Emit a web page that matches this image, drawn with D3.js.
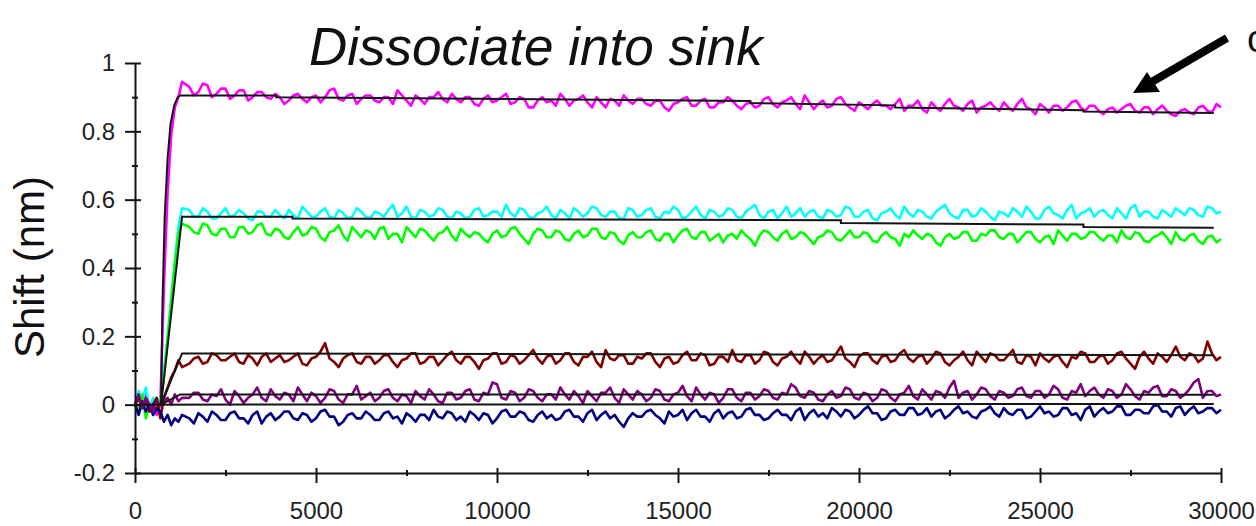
<!DOCTYPE html>
<html>
<head>
<meta charset="utf-8">
<script src="https://cdn.jsdelivr.net/npm/d3@7"></script>
<style>
  body { margin: 0; background: #fff; }
  svg { display: block; }
  text { font-family: "Liberation Sans", Arial, sans-serif; }
</style>
</head>
<body>
<svg id="chart" width="1256" height="526"></svg>
<script>
// sampling grid (s): 100 s steps over the binding ramp, then every 125 s
const times = d3.range(0, 1301, 100).concat(d3.range(1500, 30001, 125));

const magenta = [
  0.0, 0.02, -0.01, 0.03, -0.02, 0.01, -0.03, 0.0, 0.35, 0.62, 0.79, 0.87, 0.9, 0.945,
  0.93, 0.905, 0.915, 0.94, 0.935, 0.9, 0.91, 0.925, 0.925, 0.895, 0.905, 0.92, 0.92, 0.89, 0.9, 0.915, 0.915, 0.9, 0.895, 0.91,
  0.9, 0.88, 0.89, 0.905, 0.91, 0.895, 0.885, 0.9, 0.905, 0.885, 0.9, 0.92, 0.925, 0.895, 0.89, 0.905, 0.91, 0.88, 0.895, 0.905,
  0.905, 0.89, 0.885, 0.9, 0.9, 0.88, 0.92, 0.905, 0.89, 0.875, 0.905, 0.895, 0.88, 0.9, 0.9, 0.915, 0.895, 0.885, 0.91, 0.895,
  0.885, 0.9, 0.9, 0.88, 0.875, 0.895, 0.905, 0.885, 0.89, 0.9, 0.91, 0.88, 0.885, 0.9, 0.895, 0.87, 0.87, 0.89, 0.9, 0.885,
  0.89, 0.875, 0.91, 0.895, 0.875, 0.89, 0.895, 0.905, 0.885, 0.87, 0.9, 0.885, 0.87, 0.895, 0.89, 0.875, 0.905, 0.89, 0.88, 0.895,
  0.895, 0.88, 0.875, 0.89, 0.89, 0.87, 0.86, 0.88, 0.885, 0.895, 0.9, 0.875, 0.875, 0.89, 0.895, 0.87, 0.87, 0.885, 0.885, 0.9,
  0.89, 0.875, 0.865, 0.88, 0.885, 0.87, 0.875, 0.895, 0.9, 0.88, 0.87, 0.885, 0.89, 0.9, 0.88, 0.865, 0.905, 0.885, 0.865, 0.88,
  0.89, 0.87, 0.875, 0.895, 0.9, 0.88, 0.87, 0.86, 0.885, 0.875, 0.865, 0.88, 0.89, 0.875, 0.875, 0.865, 0.88, 0.895, 0.86, 0.875,
  0.875, 0.89, 0.865, 0.855, 0.885, 0.87, 0.86, 0.88, 0.895, 0.875, 0.87, 0.86, 0.88, 0.89, 0.855, 0.87, 0.875, 0.885, 0.87, 0.86,
  0.885, 0.87, 0.86, 0.88, 0.895, 0.87, 0.865, 0.85, 0.88, 0.87, 0.855, 0.875, 0.875, 0.86, 0.87, 0.885, 0.89, 0.87, 0.86, 0.875,
  0.875, 0.86, 0.85, 0.865, 0.87, 0.855, 0.865, 0.875, 0.88, 0.86, 0.855, 0.87, 0.87, 0.85, 0.865, 0.875, 0.86, 0.85, 0.845, 0.86,
  0.865, 0.855, 0.85, 0.87, 0.875, 0.86, 0.855, 0.88, 0.87
];
const cyan = [
  0.0, 0.04, 0.01, 0.05, -0.01, 0.02, 0.0, 0.01, 0.1, 0.2, 0.31, 0.42, 0.52, 0.575,
  0.57, 0.55, 0.55, 0.575, 0.565, 0.545, 0.545, 0.56, 0.575, 0.55, 0.555, 0.57, 0.56, 0.545, 0.54, 0.565, 0.565, 0.55, 0.55, 0.57,
  0.555, 0.545, 0.57, 0.555, 0.545, 0.58, 0.565, 0.55, 0.55, 0.565, 0.575, 0.55, 0.545, 0.57, 0.56, 0.545, 0.55, 0.575, 0.565, 0.55,
  0.545, 0.565, 0.56, 0.55, 0.57, 0.585, 0.55, 0.56, 0.58, 0.55, 0.545, 0.57, 0.565, 0.55, 0.555, 0.575, 0.57, 0.55, 0.545, 0.565,
  0.56, 0.545, 0.55, 0.57, 0.575, 0.55, 0.555, 0.565, 0.565, 0.55, 0.585, 0.56, 0.55, 0.575, 0.57, 0.55, 0.545, 0.56, 0.565, 0.58,
  0.555, 0.545, 0.57, 0.56, 0.545, 0.575, 0.565, 0.55, 0.56, 0.58, 0.575, 0.555, 0.55, 0.565, 0.565, 0.545, 0.545, 0.575, 0.57, 0.55,
  0.555, 0.57, 0.575, 0.55, 0.545, 0.565, 0.56, 0.58, 0.57, 0.545, 0.55, 0.565, 0.58, 0.555, 0.545, 0.57, 0.565, 0.55, 0.555, 0.575,
  0.57, 0.55, 0.545, 0.565, 0.575, 0.585, 0.555, 0.545, 0.565, 0.57, 0.545, 0.56, 0.58, 0.55, 0.56, 0.575, 0.55, 0.565, 0.57, 0.55,
  0.545, 0.57, 0.565, 0.55, 0.555, 0.58, 0.575, 0.55, 0.55, 0.565, 0.57, 0.545, 0.54, 0.56, 0.565, 0.575, 0.555, 0.545, 0.58, 0.56,
  0.55, 0.57, 0.565, 0.55, 0.545, 0.565, 0.575, 0.585, 0.56, 0.55, 0.545, 0.57, 0.57, 0.55, 0.555, 0.575, 0.565, 0.55, 0.54, 0.565,
  0.56, 0.55, 0.575, 0.565, 0.55, 0.58, 0.565, 0.545, 0.545, 0.57, 0.58, 0.56, 0.555, 0.545, 0.57, 0.585, 0.545, 0.56, 0.565, 0.575,
  0.55, 0.565, 0.57, 0.555, 0.545, 0.575, 0.56, 0.545, 0.575, 0.585, 0.55, 0.565, 0.565, 0.55, 0.545, 0.57, 0.56, 0.55, 0.575, 0.565,
  0.555, 0.575, 0.57, 0.555, 0.55, 0.58, 0.575, 0.56, 0.565
];
const green = [
  0.01, -0.02, 0.03, -0.04, 0.0, -0.03, 0.02, 0.0, 0.08, 0.19, 0.3, 0.41, 0.5, 0.53,
  0.52, 0.505, 0.5, 0.53, 0.525, 0.5, 0.495, 0.515, 0.515, 0.49, 0.49, 0.52, 0.52, 0.5, 0.505, 0.525, 0.53, 0.5, 0.495, 0.515,
  0.51, 0.49, 0.485, 0.505, 0.52, 0.495, 0.5, 0.52, 0.515, 0.49, 0.48, 0.505, 0.51, 0.525, 0.495, 0.48, 0.52, 0.505, 0.49, 0.51,
  0.505, 0.485, 0.515, 0.52, 0.485, 0.5, 0.5, 0.475, 0.52, 0.505, 0.49, 0.515, 0.51, 0.495, 0.48, 0.5, 0.505, 0.52, 0.495, 0.48,
  0.515, 0.5, 0.49, 0.505, 0.5, 0.485, 0.475, 0.5, 0.51, 0.49, 0.495, 0.515, 0.52, 0.5, 0.485, 0.47, 0.5, 0.515, 0.51, 0.49,
  0.49, 0.51, 0.505, 0.485, 0.48, 0.5, 0.51, 0.49, 0.495, 0.515, 0.515, 0.49, 0.485, 0.505, 0.5, 0.48, 0.47, 0.495, 0.505, 0.49,
  0.49, 0.505, 0.51, 0.485, 0.48, 0.5, 0.5, 0.475, 0.495, 0.51, 0.515, 0.49, 0.485, 0.505, 0.505, 0.48, 0.49, 0.5, 0.475, 0.495,
  0.5, 0.485, 0.51, 0.495, 0.485, 0.465, 0.495, 0.51, 0.505, 0.49, 0.48, 0.5, 0.51, 0.485, 0.49, 0.505, 0.5, 0.485, 0.47, 0.49,
  0.495, 0.51, 0.505, 0.485, 0.48, 0.495, 0.51, 0.49, 0.49, 0.505, 0.5, 0.48, 0.475, 0.495, 0.505, 0.49, 0.485, 0.465, 0.5, 0.49,
  0.51, 0.495, 0.485, 0.5, 0.495, 0.475, 0.465, 0.49, 0.5, 0.485, 0.49, 0.505, 0.505, 0.48, 0.48, 0.5, 0.495, 0.51, 0.51, 0.49,
  0.485, 0.5, 0.5, 0.475, 0.49, 0.505, 0.505, 0.485, 0.475, 0.49, 0.495, 0.47, 0.51, 0.495, 0.48, 0.5, 0.5, 0.485, 0.49, 0.505,
  0.505, 0.49, 0.48, 0.495, 0.495, 0.475, 0.51, 0.49, 0.485, 0.505, 0.5, 0.48, 0.475, 0.49, 0.495, 0.505, 0.49, 0.47, 0.505, 0.485,
  0.48, 0.495, 0.5, 0.48, 0.47, 0.49, 0.495, 0.475, 0.485
];
const darkRed = [
  0.0, 0.02, -0.01, 0.01, -0.02, 0.0, 0.02, -0.04, 0.02, 0.05, 0.08, 0.1, 0.13, 0.11,
  0.12, 0.135, 0.14, 0.12, 0.125, 0.15, 0.145, 0.13, 0.13, 0.14, 0.15, 0.125, 0.12, 0.145, 0.135, 0.115, 0.14, 0.15, 0.125, 0.135,
  0.145, 0.125, 0.13, 0.14, 0.15, 0.12, 0.115, 0.135, 0.14, 0.155, 0.18, 0.135, 0.125, 0.11, 0.135, 0.145, 0.15, 0.125, 0.12, 0.14,
  0.14, 0.12, 0.13, 0.145, 0.145, 0.125, 0.11, 0.13, 0.135, 0.15, 0.15, 0.12, 0.125, 0.14, 0.14, 0.115, 0.13, 0.145, 0.155, 0.13,
  0.12, 0.14, 0.14, 0.125, 0.105, 0.13, 0.135, 0.15, 0.15, 0.12, 0.125, 0.145, 0.14, 0.12, 0.13, 0.145, 0.16, 0.135, 0.12, 0.14,
  0.145, 0.12, 0.13, 0.15, 0.15, 0.125, 0.115, 0.14, 0.14, 0.155, 0.125, 0.11, 0.16, 0.135, 0.13, 0.145, 0.145, 0.12, 0.12, 0.14,
  0.135, 0.15, 0.15, 0.125, 0.11, 0.135, 0.14, 0.12, 0.125, 0.145, 0.155, 0.13, 0.13, 0.15, 0.145, 0.115, 0.12, 0.14, 0.14, 0.125,
  0.16, 0.13, 0.125, 0.145, 0.145, 0.12, 0.13, 0.155, 0.15, 0.125, 0.115, 0.135, 0.14, 0.155, 0.135, 0.12, 0.155, 0.14, 0.12, 0.135,
  0.145, 0.125, 0.13, 0.15, 0.17, 0.135, 0.125, 0.11, 0.14, 0.15, 0.15, 0.13, 0.12, 0.14, 0.145, 0.125, 0.13, 0.15, 0.16, 0.135,
  0.125, 0.14, 0.145, 0.12, 0.135, 0.155, 0.15, 0.125, 0.115, 0.13, 0.14, 0.155, 0.13, 0.115, 0.155, 0.14, 0.125, 0.15, 0.145, 0.13,
  0.13, 0.145, 0.16, 0.125, 0.12, 0.145, 0.14, 0.115, 0.15, 0.135, 0.125, 0.14, 0.145, 0.125, 0.11, 0.14, 0.135, 0.155, 0.15, 0.125,
  0.125, 0.14, 0.145, 0.12, 0.13, 0.15, 0.155, 0.135, 0.12, 0.105, 0.14, 0.155, 0.135, 0.12, 0.15, 0.14, 0.125, 0.145, 0.17, 0.14,
  0.13, 0.15, 0.145, 0.125, 0.135, 0.185, 0.15, 0.13, 0.14
];
const purple = [
  0.0, 0.03, -0.01, 0.02, 0.0, -0.02, 0.01, 0.0, 0.01, 0.02, 0.0, 0.03, 0.01, 0.02,
  0.02, 0.035, 0.035, 0.015, 0.01, 0.03, 0.025, 0.045, 0.015, 0.0, 0.04, 0.025, 0.005, 0.02, 0.03, 0.05, 0.02, 0.01, 0.045, 0.025,
  0.015, 0.035, 0.03, 0.01, 0.05, 0.03, 0.01, 0.035, 0.025, 0.005, 0.02, 0.045, 0.04, 0.015, 0.005, 0.03, 0.03, 0.055, 0.015, 0.025,
  0.035, 0.01, 0.02, 0.04, 0.045, 0.02, 0.01, 0.03, 0.025, 0.005, 0.04, 0.025, 0.015, 0.045, 0.03, 0.01, 0.005, 0.035, 0.035, 0.015,
  0.02, 0.04, 0.045, 0.015, 0.01, 0.035, 0.03, 0.065, 0.06, 0.02, 0.015, 0.04, 0.035, 0.01, 0.02, 0.045, 0.04, 0.02, 0.01, 0.03,
  0.03, 0.015, 0.05, 0.03, 0.015, 0.04, 0.025, 0.005, 0.04, 0.025, 0.01, 0.035, 0.035, 0.05, 0.02, 0.005, 0.045, 0.03, 0.015, 0.04,
  0.03, 0.01, 0.02, 0.045, 0.04, 0.015, 0.01, 0.03, 0.035, 0.055, 0.025, 0.01, 0.05, 0.03, 0.015, 0.035, 0.03, 0.005, 0.02, 0.045,
  0.045, 0.02, 0.01, 0.035, 0.035, 0.015, 0.025, 0.045, 0.04, 0.02, 0.015, 0.035, 0.03, 0.06, 0.05, 0.025, 0.02, 0.04, 0.035, 0.015,
  0.01, 0.03, 0.04, 0.02, 0.025, 0.05, 0.045, 0.02, 0.015, 0.035, 0.03, 0.01, 0.02, 0.045, 0.04, 0.02, 0.01, 0.03, 0.035, 0.055,
  0.025, 0.015, 0.045, 0.03, 0.015, 0.04, 0.035, 0.02, 0.05, 0.07, 0.02, 0.035, 0.04, 0.015, 0.03, 0.05, 0.045, 0.025, 0.015, 0.04,
  0.035, 0.02, 0.025, 0.045, 0.05, 0.025, 0.02, 0.04, 0.04, 0.02, 0.03, 0.055, 0.045, 0.02, 0.015, 0.04, 0.035, 0.06, 0.025, 0.04,
  0.05, 0.03, 0.02, 0.045, 0.04, 0.02, 0.03, 0.06, 0.045, 0.025, 0.015, 0.04, 0.035, 0.05, 0.055, 0.025, 0.025, 0.045, 0.04, 0.02,
  0.03, 0.045, 0.065, 0.075, 0.02, 0.04, 0.04, 0.025, 0.03
];
const navy = [
  0.0, -0.03, 0.01, -0.02, 0.0, -0.03, -0.01, -0.02, -0.05, -0.03, -0.06, -0.04, -0.05, -0.03,
  -0.04, -0.055, -0.025, -0.035, -0.05, -0.02, -0.03, -0.045, -0.045, -0.025, -0.02, -0.04, -0.04, -0.055, -0.03, -0.02, -0.055, -0.035, -0.025, -0.045,
  -0.035, -0.02, -0.02, -0.04, -0.045, -0.025, -0.03, -0.05, -0.04, -0.02, -0.015, -0.035, -0.035, -0.06, -0.05, -0.03, -0.025, -0.04, -0.04, -0.02,
  -0.03, -0.045, -0.045, -0.025, -0.02, -0.04, -0.035, -0.055, -0.025, -0.035, -0.05, -0.03, -0.03, -0.045, -0.015, -0.035, -0.04, -0.02, -0.025, -0.045,
  -0.035, -0.05, -0.02, -0.03, -0.045, -0.025, -0.03, -0.055, -0.04, -0.02, -0.015, -0.035, -0.035, -0.02, -0.025, -0.045, -0.05, -0.03, -0.02, -0.04,
  -0.03, -0.045, -0.04, -0.02, -0.015, -0.035, -0.035, -0.05, -0.025, -0.015, -0.045, -0.03, -0.02, -0.04, -0.03, -0.05, -0.065, -0.04, -0.025, -0.035,
  -0.035, -0.02, -0.015, -0.03, -0.04, -0.055, -0.02, -0.035, -0.03, -0.015, -0.045, -0.025, -0.015, -0.035, -0.035, -0.05, -0.025, -0.015, -0.04, -0.025,
  -0.02, -0.04, -0.035, -0.015, -0.01, -0.03, -0.03, -0.045, -0.04, -0.025, -0.015, -0.03, -0.03, -0.045, -0.02, -0.01, -0.045, -0.025, -0.015, -0.035,
  -0.025, -0.04, -0.01, -0.02, -0.035, -0.015, -0.02, -0.04, -0.03, -0.015, -0.005, -0.025, -0.025, -0.045, -0.04, -0.02, -0.015, -0.03, -0.03, -0.01,
  -0.01, -0.03, -0.025, -0.01, -0.035, -0.02, -0.015, -0.04, -0.03, -0.015, -0.005, -0.025, -0.02, -0.035, -0.04, -0.02, -0.015, -0.005, -0.025, -0.035,
  -0.01, -0.025, -0.03, -0.015, -0.015, -0.04, -0.035, -0.02, -0.005, -0.025, -0.02, -0.035, -0.03, -0.01, -0.01, -0.03, -0.025, -0.045, -0.015, -0.005,
  -0.035, -0.02, -0.01, -0.025, -0.02, -0.005, -0.005, -0.03, -0.03, -0.015, -0.015, -0.025, -0.025, -0.005, 0.0, -0.02, -0.02, -0.035, -0.01, -0.005,
  -0.03, -0.015, -0.005, -0.025, -0.02, -0.01, -0.01, -0.025, -0.015
];

// fitted curves, [time, shift]
const magentaFit = [[720, 0], [760, 0.3], [820, 0.55], [900, 0.72], [980, 0.82], [1080, 0.875],
  [1180, 0.9], [1250, 0.905], [3900, 0.905], [3900, 0.9], [17000, 0.889], [17000, 0.883],
  [21000, 0.876], [21000, 0.87], [26200, 0.862], [26200, 0.858], [29800, 0.854]];
const cyanFit = [[720, 0], [1300, 0.55], [4350, 0.55], [4350, 0.545], [19500, 0.54],
  [19500, 0.532], [26200, 0.527], [26200, 0.52], [29800, 0.518]];
const redFit = [[720, 0], [1300, 0.15], [29800, 0.145]];
const purpleFit = [[720, 0], [1250, 0.03], [29800, 0.029]];
const baseFit = [[0, 0], [29800, 0.002]];

const xMajor = [0, 5000, 10000, 15000, 20000, 25000, 30000];
const xMinor = [2500, 7500, 12500, 17500, 22500, 27500];
const yMajor = [-0.2, 0, 0.2, 0.4, 0.6, 0.8, 1];
const yMinor = [-0.1, 0.1, 0.3, 0.5, 0.7, 0.9];

const series = [
  { values: magenta, color: '#ff00ff' },
  { values: cyan, color: '#00ffff' },
  { values: green, color: '#00ff00' },
  { values: darkRed, color: '#800000' },
  { values: navy, color: '#000080' },
  { values: purple, color: '#800080' },
];
const fits = [magentaFit, cyanFit, redFit, purpleFit, baseFit];

const svg = d3.select('#chart');
const x = d3.scaleLinear().domain([0, 30000]).range([135, 1221]);
const y = d3.scaleLinear().domain([-0.2, 1]).range([473, 63]);

// traces
const trace = d3.line()
  .defined((d, i) => i < times.length)
  .x((d, i) => x(times[i]))
  .y((d) => y(d));
svg.append('g')
  .selectAll('path')
  .data(series)
  .enter()
  .append('path')
  .attr('d', (s) => trace(s.values))
  .attr('fill', 'none')
  .attr('stroke', (s) => s.color)
  .attr('stroke-width', 2.6)
  .attr('stroke-linejoin', 'round');

// fits on top
const fitLine = d3.line().x((d) => x(d[0])).y((d) => y(d[1]));
svg.append('g')
  .selectAll('path')
  .data(fits)
  .enter()
  .append('path')
  .attr('d', fitLine)
  .attr('fill', 'none')
  .attr('stroke', '#141414')
  .attr('stroke-width', 2);

// y axis
const yAxis = svg.append('g')
  .attr('transform', `translate(${x(0)},0)`)
  .call(d3.axisLeft(y).tickValues(yMajor).tickSize(10).tickPadding(10).tickSizeOuter(0)
    .tickFormat((d) => String(d)));
yAxis.selectAll('.tick line').attr('x1', 6).attr('x2', -10);
svg.append('g')
  .attr('transform', `translate(${x(0)},0)`)
  .call(d3.axisLeft(y).tickValues(yMinor).tickSize(3).tickFormat('').tickSizeOuter(0))
  .call((g) => g.select('.domain').remove())
  .selectAll('.tick line').attr('x1', 3);

// x axis
const xAxis = svg.append('g')
  .attr('transform', `translate(0,${y(-0.2)})`)
  .call(d3.axisBottom(x).tickValues(xMajor).tickSize(10).tickPadding(19).tickSizeOuter(0)
    .tickFormat((d) => String(d)));
xAxis.selectAll('.tick line').attr('y1', -5).attr('y2', 10);
svg.append('g')
  .attr('transform', `translate(0,${y(-0.2)})`)
  .call(d3.axisBottom(x).tickValues(xMinor).tickSize(3).tickFormat('').tickSizeOuter(0))
  .call((g) => g.select('.domain').remove())
  .selectAll('.tick line').attr('y1', -3);

svg.selectAll('.domain, .tick line').attr('stroke', '#141414').attr('stroke-width', 2);
svg.selectAll('.tick text')
  .attr('fill', '#222')
  .style('font-size', '24px')
  .style('font-family', '"Liberation Sans", Arial, sans-serif');

// axis title
svg.append('text')
  .attr('transform', 'translate(44,267) rotate(-90)')
  .attr('text-anchor', 'middle')
  .attr('fill', '#111')
  .style('font-size', '42px')
  .text('Shift (nm)');

// header and annotation
svg.append('text')
  .attr('x', 309)
  .attr('y', 65)
  .attr('fill', '#111')
  .style('font-size', '53px')
  .style('font-style', 'italic')
  .text('Dissociate into sink');

svg.append('text')
  .attr('x', 1247)
  .attr('y', 52)
  .attr('fill', '#111')
  .style('font-size', '38px')
  .text('c');

svg.append('line')
  .attr('x1', 1227).attr('y1', 38)
  .attr('x2', 1150).attr('y2', 83)
  .attr('stroke', '#000')
  .attr('stroke-width', 8);
svg.append('path')
  .attr('d', 'M1133,93 L1147,72 L1160,92 Z')
  .attr('fill', '#000');
</script>
</body>
</html>
